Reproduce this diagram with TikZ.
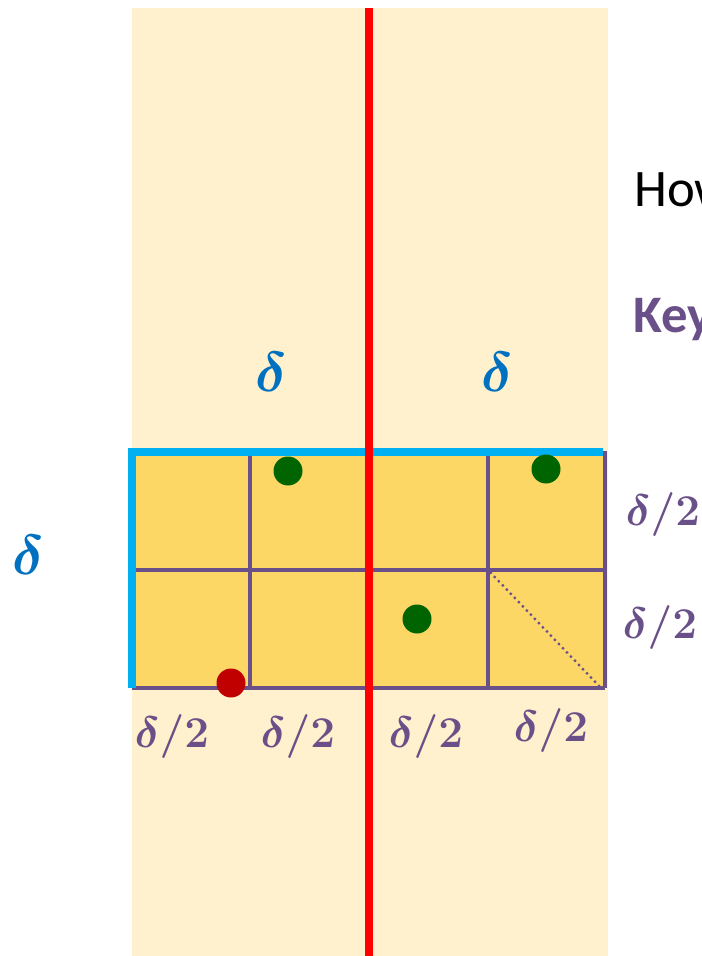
\RequirePackage{fix-cm}
\documentclass[tikz,border=0pt]{standalone}
\usepackage{fontspec}
\setmainfont{Carlito}
\usepackage{tikz}
\usetikzlibrary{positioning}
\definecolor{stripBg}{RGB}{255,241,205}
\definecolor{cellFill}{RGB}{253,215,102}
\definecolor{gridViolet}{RGB}{106,80,136}
\definecolor{edgeBlue}{RGB}{0,176,240}
\definecolor{deltaBlue}{RGB}{0,112,192}
\definecolor{ptGreen}{RGB}{0,100,0}
\definecolor{ptRed}{RGB}{192,0,0}

\begin{document}
\begin{tikzpicture}[x=0.02cm, y=-0.02cm,
    every node/.style={inner sep=0pt},
    half/.style={text=gridViolet, font=\fontsize{25}{29}\selectfont\boldmath},
    full/.style={text=deltaBlue, font=\fontsize{32}{36}\selectfont\boldmath},
    pt/.style={circle, minimum size=0.58cm},
    grid/.style={gridViolet, line width=2.4pt},
    edge/.style={edgeBlue, line width=5pt}
  ]
    \useasboundingbox (0,0) rectangle (702,956);
    \clip (0,0) rectangle (702,956);
    % Strip and cells
    \fill[stripBg] (132,8) rectangle (608,956);
    \fill[cellFill] (132,451) rectangle (605,688);
    % Grid
    \draw[grid] (250,451) -- (250,688);
    \draw[grid] (369,451) -- (369,688);
    \draw[grid] (488,451) -- (488,688);
    \draw[grid] (605,451) -- (605,688);
    \draw[grid] (132,570) -- (605,570);
    \draw[grid] (132,688) -- (605,688);
    \draw[gridViolet, line width=1.3pt, dotted] (490,572) -- (601,688);
    % Blue edges
    \draw[edge] (132,688) -- (132,452) -- (603,452);
    % Separating line
    \draw[red, line width=4.5pt] (369,8) -- (369,956);
    % Points
    \node[pt, fill=ptGreen] (g1) at (288,471) {};
    \node[pt, fill=ptGreen] (g2) at (546,469) {};
    \node[pt, fill=ptGreen] (g3) at (417,619) {};
    \node[pt, fill=ptRed] (r1) at (231,683) {};
    % Labels
    \node[full] (dl) at (271,372) {$\delta$};
    \node[full] (dr) at (497,372) {$\delta$};
    \node[full] (dv) at (28,555) {$\delta$};
    \node[half] (h1) at (172,737) {$\delta/2$};
    \node[half] (h2) at (298,737) {$\delta/2$};
    \node[half] (h3) at (426,737) {$\delta/2$};
    \node[half] (h4) at (551,731) {$\delta/2$};
    \node[half] (v1) at (663,515) {$\delta/2$};
    \node[half] (v2) at (660,628) {$\delta/2$};
    % Side text
    \node[anchor=base west, font=\fontsize{30}{34}\selectfont] (how) at (634,207) {How};
    \node[anchor=base west, text=gridViolet, font=\fontsize{30}{34}\selectfont\bfseries] (key) at (633,332) {Key};
  \end{tikzpicture}
\end{document}
